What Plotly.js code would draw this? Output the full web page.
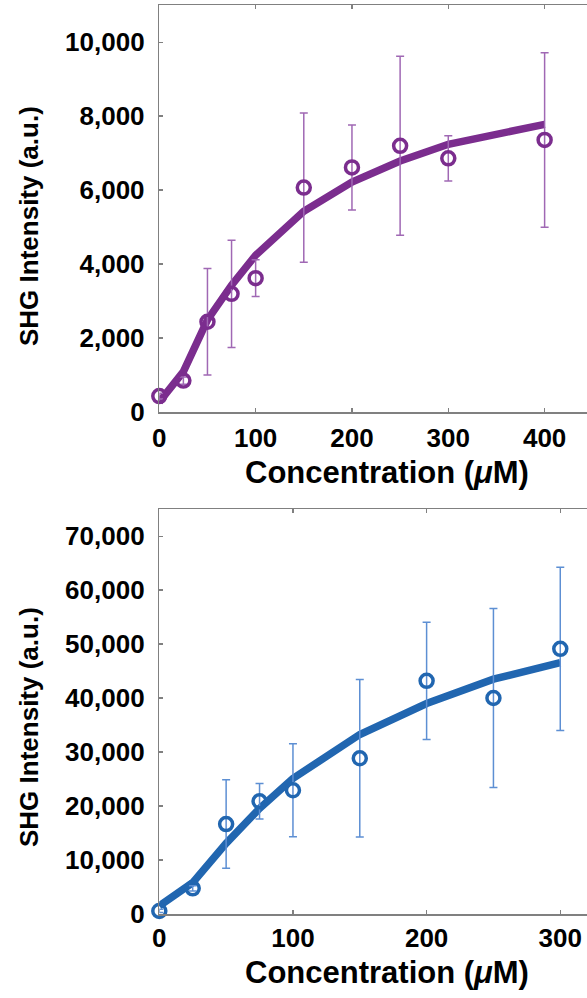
<!DOCTYPE html>
<html>
<head>
<meta charset="utf-8">
<script src="https://cdn.plot.ly/plotly-3.0.1.min.js"></script>
<style>
html,body{margin:0;padding:0;background:#fff;}
#chart{width:587px;height:998px;}
</style>
</head>
<body>
<div id="chart"></div>
<script>
// Top panel (purple)
var conc1 = [0, 25, 50, 75, 100, 150, 200, 250, 300, 400];
var shg1  = [430, 850, 2440, 3195, 3620, 6070, 6615, 7200, 6860, 7360];
var err1  = [80, 100, 1440, 1450, 495, 2020, 1150, 2420, 610, 2360];
var fit1  = [270, 1090, 2490, 3430, 4240, 5430, 6220, 6790, 7240, 7780];

// Bottom panel (blue)
var conc2 = [0, 25, 50, 75, 100, 150, 200, 250, 300];
var shg2  = [560, 4750, 16660, 20890, 22930, 28860, 43210, 40030, 49140];
var err2  = [300, 500, 8200, 3300, 8610, 14600, 10860, 16570, 15120];
var fit2  = [1500, 5800, 13090, 19570, 25120, 33270, 39010, 43520, 46600];

var ticks1 = [0, 100, 200, 300, 400];
var yticks1 = [0, 2000, 4000, 6000, 8000, 10000];
var ticks2 = [0, 100, 200, 300];
var yticks2 = [0, 10000, 20000, 30000, 40000, 50000, 60000, 70000];

var xTitle = 'Concentration (<i>\u03bc</i>M)';
var yTitle = 'SHG Intensity (a.u.)';

var purple = '#7b2d8e', purpleErr = '#a068b4';
var blue = '#2166b0', blueErr = '#5d8fd3';

var W = 587, H = 998;
function py(p){ return 1 - p / H; }
function px(p){ return p / W; }

var traces = [
  {x: conc1, y: fit1, mode: 'lines', line: {color: purple, width: 7.5}, xaxis: 'x', yaxis: 'y', cliponaxis: false, hoverinfo: 'skip'},
  {x: conc1, y: shg1, mode: 'markers', xaxis: 'x', yaxis: 'y', cliponaxis: false,
   marker: {symbol: 'circle-open', size: 13, color: purple, line: {width: 3.5, color: purple}},
   error_y: {type: 'data', array: err1, visible: true, color: purpleErr, thickness: 1.5, width: 4}},
  {x: conc2, y: fit2, mode: 'lines', line: {color: blue, width: 7.5}, xaxis: 'x2', yaxis: 'y2', cliponaxis: false, hoverinfo: 'skip'},
  {x: conc2, y: shg2, mode: 'markers', xaxis: 'x2', yaxis: 'y2', cliponaxis: false,
   marker: {symbol: 'circle-open', size: 13, color: blue, line: {width: 3.5, color: blue}},
   error_y: {type: 'data', array: err2, visible: true, color: blueErr, thickness: 1.5, width: 4}}
];

var tickFont = {family: 'Liberation Sans, Arial, sans-serif', size: 26, color: '#000', weight: 'bold'};
var axCommon = {showline: true, linecolor: '#808080', linewidth: 1.5, ticks: 'inside', ticklen: 4,
  tickcolor: '#808080', tickwidth: 1.5, showgrid: false, zeroline: false, tickfont: tickFont, automargin: false, fixedrange: true};

function ax(extra){ var o = {}; for (var k in axCommon) o[k] = axCommon[k]; for (var k2 in extra) o[k2] = extra[k2]; return o; }

var xdom = [px(159.3), 1];
var layout = {
  width: W, height: H,
  margin: {l: 0, r: 0, t: 0, b: 0},
  paper_bgcolor: '#fff', plot_bgcolor: '#fff',
  showlegend: false,
  xaxis: ax({domain: xdom, range: [0, 444], tickmode: 'array', tickvals: ticks1, mirror: 'ticks', anchor: 'y', ticklabelstandoff: 2}),
  yaxis: ax({domain: [py(412), py(5.3)], range: [0, 11000], tickmode: 'array', tickvals: yticks1, tickformat: ',d', anchor: 'x', ticklabelstandoff: 8}),
  xaxis2: ax({domain: xdom, range: [0, 320], tickmode: 'array', tickvals: ticks2, mirror: 'ticks', anchor: 'y2', ticklabelstandoff: 0}),
  yaxis2: ax({domain: [py(914), py(509.3)], range: [0, 75000], tickmode: 'array', tickvals: yticks2, tickformat: ',d', anchor: 'x2', ticklabelstandoff: 8}),
  annotations: [
    {text: xTitle, xref: 'paper', yref: 'paper', x: px(386.5), y: py(472), xanchor: 'center', yanchor: 'middle', showarrow: false,
     font: {family: 'Liberation Sans, Arial, sans-serif', size: 31, color: '#000', weight: 'bold'}},
    {text: xTitle, xref: 'paper', yref: 'paper', x: px(386.5), y: py(972), xanchor: 'center', yanchor: 'middle', showarrow: false,
     font: {family: 'Liberation Sans, Arial, sans-serif', size: 31, color: '#000', weight: 'bold'}},
    {text: yTitle, xref: 'paper', yref: 'paper', x: px(29), y: py(226), xanchor: 'center', yanchor: 'middle', textangle: -90, showarrow: false,
     font: {family: 'Liberation Sans, Arial, sans-serif', size: 26, color: '#000', weight: 'bold'}},
    {text: yTitle, xref: 'paper', yref: 'paper', x: px(29), y: py(727), xanchor: 'center', yanchor: 'middle', textangle: -90, showarrow: false,
     font: {family: 'Liberation Sans, Arial, sans-serif', size: 26, color: '#000', weight: 'bold'}}
  ]
};

Plotly.newPlot('chart', traces, layout, {displayModeBar: false, staticPlot: true});
</script>
</body>
</html>
